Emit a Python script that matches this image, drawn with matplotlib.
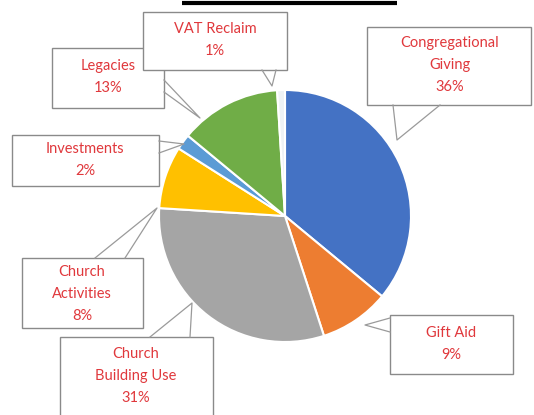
import matplotlib.pyplot as plt
from matplotlib.patches import Rectangle

labels = ["Congregational\nGiving", "Gift Aid", "Church\nBuilding Use",
          "Church\nActivities", "Investments", "Legacies", "VAT Reclaim"]
values = [36, 9, 31, 8, 2, 13, 1]
colors = ["#4472C4", "#ED7D31", "#A5A5A5", "#FFC000", "#5B9BD5", "#70AD47", "#EEF2F5"]

# callout boxes in pixel coords: (x0, y0, x1, y1), pointer base points, pointer tip, text centre
boxes = [
    ((367, 27, 531, 105), [(393, 105), (440, 105)], (397, 140), (450, 65)),
    ((390, 315, 513, 374), [(390, 318), (390, 332)], (365, 325), (451, 344)),
    ((60, 337, 213, 420), [(150, 337), (190, 337)], (192, 303), (136, 376)),
    ((22, 258, 143, 328), [(95, 258), (125, 258)], (157, 208), (82, 294)),
    ((12, 135, 159, 186), [(159, 141), (159, 153)], (184, 144), (85, 160)),
    ((52, 48, 164, 108), [(164, 80), (164, 92)], (200, 118), (108, 77)),
    ((143, 12, 287, 70), [(262, 70), (276, 70)], (272, 86), (215, 40)),
]

fig = plt.figure(figsize=(5.34, 4.15), dpi=100)
ax = fig.add_axes([0, 0, 1, 1])

ax.pie(values, colors=colors, startangle=-90, counterclock=True,
       center=(285, 216), radius=126, frame=True,
       wedgeprops=dict(edgecolor="white", linewidth=1.5))

ax.set_xlim(0, 534)
ax.set_ylim(415, 0)
ax.set_aspect("equal")
ax.axis("off")

total = sum(values)
for (rect, base, tip, txt), lab, v in zip(boxes, labels, values):
    x0, y0, x1, y1 = rect
    ax.add_patch(Rectangle((x0, y0), x1 - x0, y1 - y0, facecolor="white",
                           edgecolor="#8a8a8a", linewidth=1.0, zorder=3))
    ax.plot([base[0][0], tip[0], base[1][0]], [base[0][1], tip[1], base[1][1]],
            color="#9a9a9a", linewidth=0.9, zorder=4)
    pct = f"{round(100 * v / total)}%"
    ax.text(txt[0], txt[1], lab + "\n" + pct, ha="center", va="center",
            color="#E0383C", fontsize=10.5, family="Lato", linespacing=1.75, zorder=5)

# title underline (title text itself is cut off above the image)
ax.plot([182, 397], [3, 3], color="black", linewidth=3, solid_capstyle="butt")

fig.savefig("out.png", dpi=100)
